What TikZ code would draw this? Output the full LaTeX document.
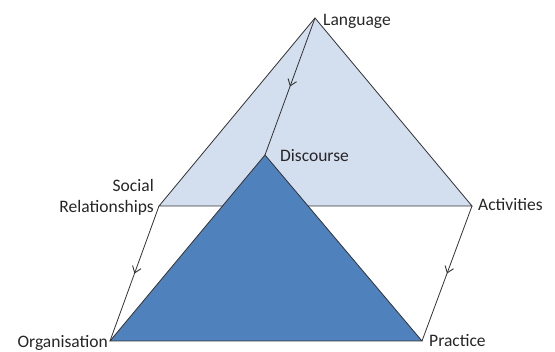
\documentclass[tikz,border=0pt]{standalone}
\usepackage{fontspec}
\setmainfont{Carlito}
\usetikzlibrary{calc,arrows.meta,decorations.markings}

\definecolor{lightface}{RGB}{211,222,239}
\definecolor{darkface}{RGB}{79,129,189}
\definecolor{edge}{RGB}{50,50,50}

\begin{document}
\begin{tikzpicture}[x=1pt,y=-1pt,
     face/.style = {draw=edge, line width=0.8pt, line join=miter},
     upper/.style = {face, fill=lightface},
     lower/.style = {face, fill=darkface},
     label/.style = {font=\fontsize{17.5}{21}\selectfont, text=black!85, inner sep=1pt},
     midarrow/.style={draw=edge, line width=0.8pt, postaction={decorate},
       decoration={markings, mark=at position 0.5 with {\arrow[line width=0.9pt]{Straight Barb[length=6pt,width=9pt]}}}}
    ]
    \useasboundingbox (0,0) rectangle (555,352);

    % corners
    \coordinate (lang) at (315,18);
    \coordinate (soc) at (159,206);
    \coordinate (act) at (472,206);
    \coordinate (disc) at (265,155);
    \coordinate (org) at (110,341);
    \coordinate (prac) at (422,341);

    % upper triangle
    \draw[upper] (lang) -- (act) -- (soc) -- cycle;

    % links
    \draw[midarrow] (lang) -- (disc);
    \draw[midarrow] (soc) -- (org);
    \draw[midarrow] (act) -- (prac);

    % lower triangle
    \draw[lower] (disc) -- (prac) -- (org) -- cycle;

    % labels
    \node [label, anchor=west] (Llang) at ($(lang)+(7,3)$) {Language};
    \node [label, anchor=west] (Ldisc) at ($(disc)+(14,1)$) {Discourse};
    \node [label, anchor=east, align=right] (Lsoc) at ($(soc)+(-4,-9)$) {Social\\Relationships};
    \node [label, anchor=west] (Lact) at ($(act)+(5,-1)$) {Activities};
    \node [label, anchor=east] (Lorg) at ($(org)+(-1,2)$) {Organisation};
    \node [label, anchor=west] (Lprac) at ($(prac)+(6,0)$) {Practice};

\end{tikzpicture}
\end{document}
